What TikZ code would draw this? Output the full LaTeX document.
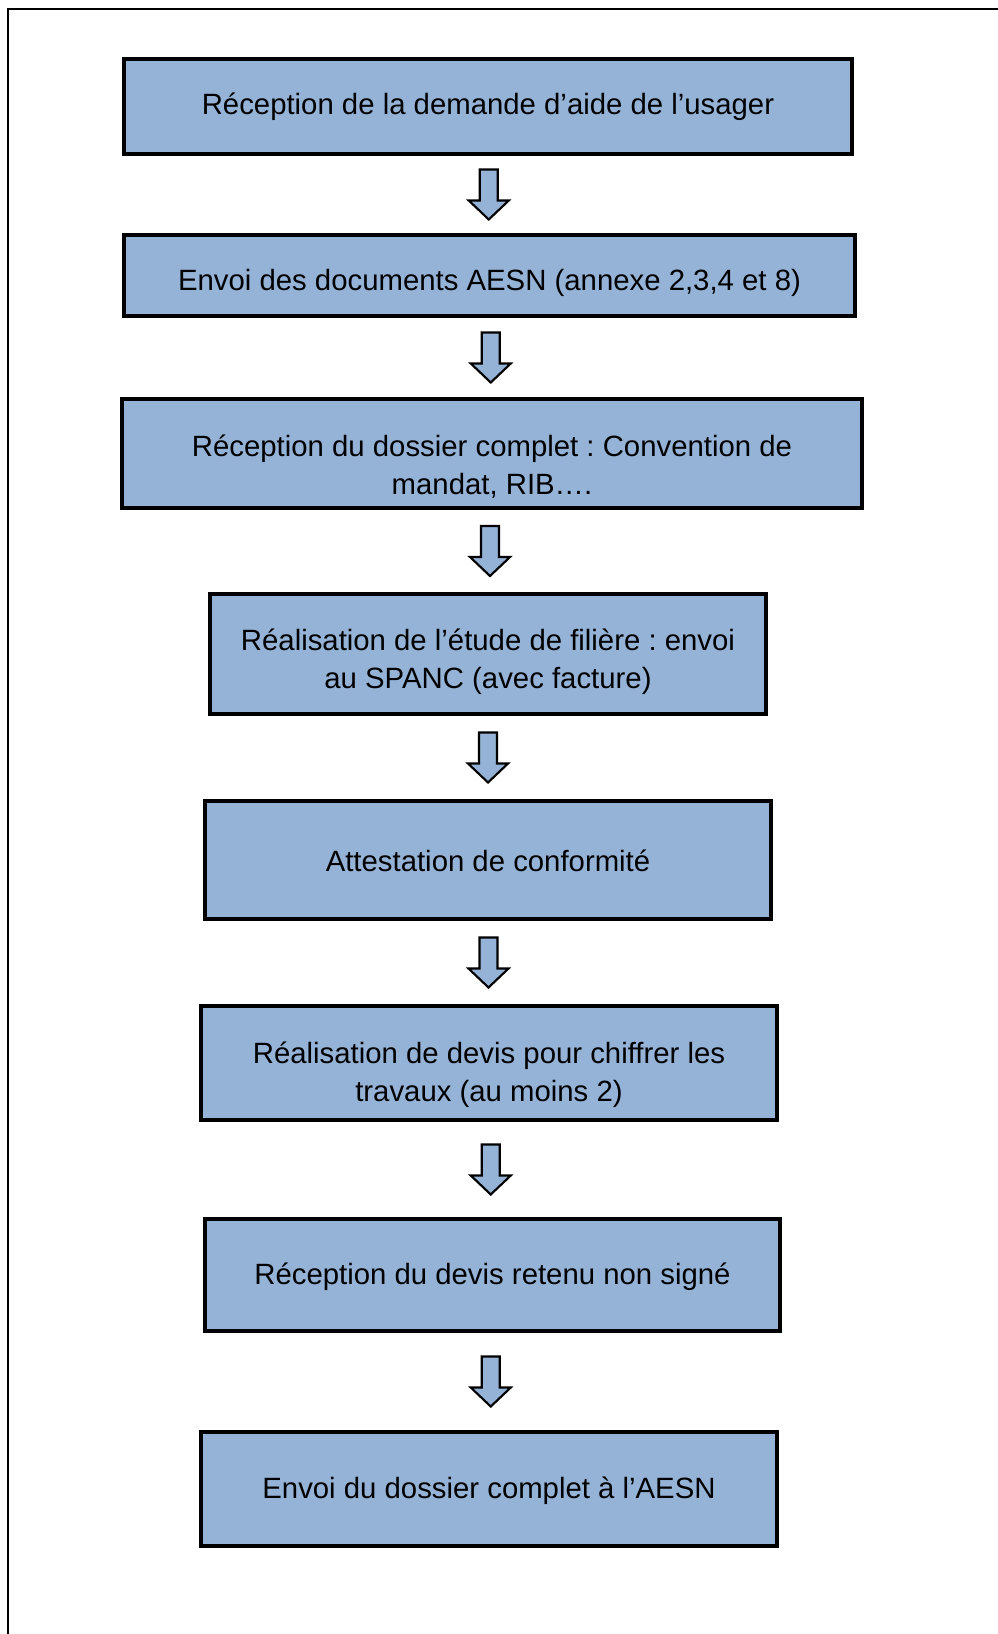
\documentclass[tikz,border=0pt]{standalone}
\usepackage{fontspec}
\setmainfont{Liberation Sans}
\usetikzlibrary{calc}
\definecolor{boxblue}{HTML}{95B3D7}
\frenchspacing
\begin{document}
\begin{tikzpicture}[x=0.75pt,y=-0.75pt,
  stepbox/.style 2 args={draw,line width=2.5pt,fill=boxblue,inner sep=0pt,
    minimum width=#1*0.75pt,minimum height=#2*0.75pt},
  steptext/.style={align=center,inner sep=0pt,font=\fontsize{22}{28.5}\selectfont},
  flowarrow/.pic={\draw[line width=1.6pt,fill=boxblue]
    (-9,-25) -- (9,-25) -- (9,6) -- (20,6) -- (0,25) -- (-20,6) -- (-9,6) -- cycle;}]
\useasboundingbox (0,0) rectangle (998,1634);
\draw[line width=1.5pt] (8,1634) -- (8,9) -- (998,9);

\node[stepbox={728}{95}] (b1) at (488,106.5) {};
\node[stepbox={731}{81}] (b2) at (489.5,275.5) {};
\node[stepbox={740}{109}] (b3) at (492,453.5) {};
\node[stepbox={556}{120}] (b4) at (488,654) {};
\node[stepbox={566}{118}] (b5) at (488,860) {};
\node[stepbox={576}{114}] (b6) at (489,1063) {};
\node[stepbox={575}{112}] (b7) at (492.5,1275) {};
\node[stepbox={576}{114}] (b8) at (489,1489) {};

\node[steptext] (t1) at ($(b1.center)+(0,0.5)$) {Réception de la demande d’aide de l’usager};
\node[steptext] (t2) at ($(b2.center)+(0,7.5)$) {Envoi des documents AESN (annexe 2,3,4 et 8)};
\node[steptext] (t3) at ($(b3.center)+(0,13)$) {Réception du dossier complet : Convention de\\mandat, RIB….};
\node[steptext] (t4) at ($(b4.center)+(0,7.5)$) {Réalisation de l’étude de filière : envoi\\au SPANC (avec facture)};
\node[steptext] (t5) at ($(b5.center)+(0,1)$) {Attestation de conformité};
\node[steptext] (t6) at ($(b6.center)+(0,11.5)$) {Réalisation de devis pour chiffrer les\\travaux (au moins 2)};
\node[steptext] (t7) at ($(b7.center)+(0,2)$) {Réception du devis retenu non signé};
\node[steptext] (t8) at ($(b8.center)+(0,2)$) {Envoi du dossier complet à l’AESN};

\foreach \a/\b in {b1/b2,b2/b3,b3/b4,b4/b5,b5/b6,b6/b7,b7/b8}
  \pic at ($(\a.south)!0.5!(\b.north)$) {flowarrow};
\end{tikzpicture}
\end{document}
